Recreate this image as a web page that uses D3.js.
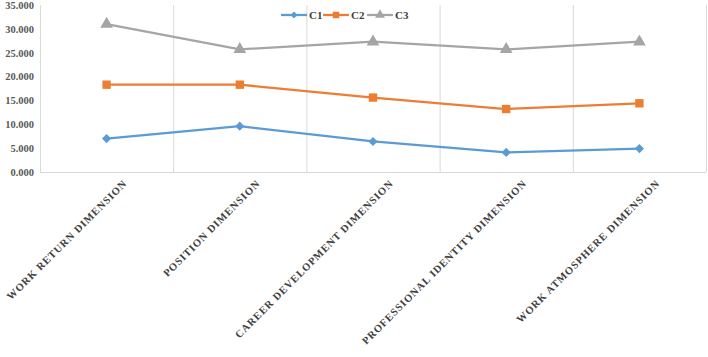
<!DOCTYPE html>
<html>
<head>
<meta charset="utf-8">
<script src="https://cdn.jsdelivr.net/npm/d3@7"></script>
<style>
  body { margin: 0; background: #fff; }
  svg { display: block; }
  .serif { font-family: 'Liberation Serif', 'Times New Roman', serif; font-weight: bold; }
</style>
</head>
<body>
<div id="chart"></div>
<script>
const categories = [
  'WORK RETURN DIMENSION',
  'POSITION DIMENSION',
  'CAREER DEVELOPMENT DIMENSION',
  'PROFESSIONAL IDENTITY DIMENSION',
  'WORK ATMOSPHERE DIMENSION'
];
const seriesNames = ['C1', 'C2', 'C3'];
const c1Values = [7.0, 9.6, 6.4, 4.1, 4.9];
const c2Values = [18.3, 18.3, 15.6, 13.2, 14.4];
const c3Values = [31.0, 25.7, 27.3, 25.7, 27.3];
const yTicks = [0, 5, 10, 15, 20, 25, 30, 35];

(function() {
  const width = 708;
  const height = 357;
  const padding = { top: 5, left: 40, right: 2, bottom: 185 };
  const colors = ['#5b9bd5', '#ed7d31', '#a5a5a5'];
  const allValues = [c1Values, c2Values, c3Values];

  const svg = d3.select('#chart').append('svg')
      .attr('width', width)
      .attr('height', height);

  const xScale = d3.scaleBand(categories, [padding.left, width - padding.right]);
  const yScale = d3.scaleLinear([0, 35], [height - padding.bottom, padding.top]);

  // vertical grid lines at category boundaries
  const bounds = categories.map(c => xScale(c)).concat([xScale.range()[1]]);
  svg.append('g')
      .selectAll('line')
      .data(bounds)
      .join('line')
      .attr('x1', d => d + 0.5)
      .attr('x2', d => d + 0.5)
      .attr('y1', yScale(35))
      .attr('y2', yScale(0))
      .attr('stroke', '#d9d9d9')
      .attr('stroke-width', 1);

  // x axis line
  svg.append('line')
      .attr('x1', padding.left)
      .attr('x2', xScale.range()[1])
      .attr('y1', yScale(0) + 0.5)
      .attr('y2', yScale(0) + 0.5)
      .attr('stroke', '#d9d9d9');

  // y axis
  const yAxis = d3.axisLeft(yScale).tickValues(yTicks).tickFormat(d3.format('.3f')).tickSize(0).tickPadding(6);
  const yg = svg.append('g')
      .attr('transform', `translate(${padding.left}, 0)`)
      .call(yAxis);
  yg.select('.domain').remove();
  yg.attr('font-family', null).attr('font-size', null);
  yg.selectAll('text')
      .attr('class', 'serif')
      .attr('fill', '#595959')
      .style('font-size', '10.5px');

  // x labels
  svg.append('g')
      .selectAll('text')
      .data(categories)
      .join('text')
      .text(d => d)
      .attr('class', 'serif')
      .attr('transform', d => `translate(${xScale(d) + xScale.bandwidth() / 2 + 21}, ${yScale(0) + 12}) rotate(-45)`)
      .attr('text-anchor', 'end')
      .attr('fill', '#404040')
      .style('font-size', '10.5px')
      .style('letter-spacing', '0.9px');

  const line = d3.line()
      .x((d, i) => xScale(categories[i]) + xScale.bandwidth() / 2)
      .y(d => yScale(d));

  const symbols = [d3.symbolSquare, d3.symbolSquare, d3.symbolTriangle];
  const symbolSizes = [42, 70, 70];
  const symbolRotate = [45, 0, 0];

  allValues.forEach((vals, s) => {
    svg.append('path')
        .datum(vals)
        .attr('d', line)
        .attr('fill', 'none')
        .attr('stroke', colors[s])
        .attr('stroke-width', 2.25);
    svg.append('g')
        .selectAll('path')
        .data(vals)
        .join('path')
        .attr('d', d3.symbol(symbols[s], symbolSizes[s]))
        .attr('transform', (d, i) => `translate(${xScale(categories[i]) + xScale.bandwidth() / 2}, ${yScale(d)}) rotate(${symbolRotate[s]})`)
        .attr('fill', colors[s]);
  });

  // legend
  const legendX = [281, 323, 367];
  const legend = svg.append('g');
  seriesNames.forEach((name, s) => {
    const g = legend.append('g').attr('transform', `translate(${legendX[s]}, 15)`);
    g.append('line')
        .attr('x1', 0).attr('x2', 26)
        .attr('stroke', colors[s])
        .attr('stroke-width', 2.25);
    g.append('path')
        .attr('d', d3.symbol(symbols[s], symbolSizes[s] * 0.6))
        .attr('transform', `translate(13, 0) rotate(${symbolRotate[s]})`)
        .attr('fill', colors[s]);
    g.append('text')
        .text(name)
        .attr('class', 'serif')
        .attr('x', 28)
        .attr('y', 4)
        .attr('fill', '#404040')
        .style('font-size', '11px');
  });
})();
</script>
</body>
</html>
